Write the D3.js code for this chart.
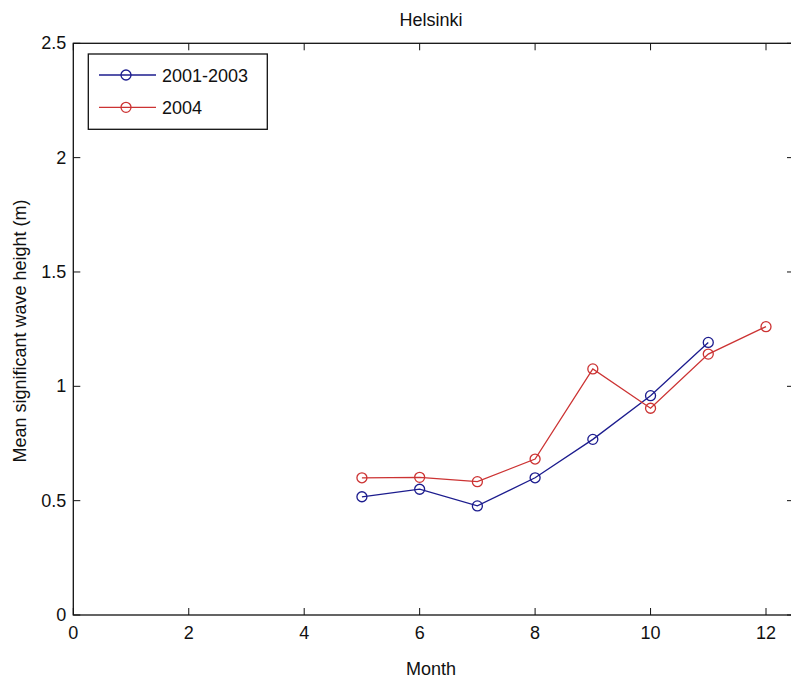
<!DOCTYPE html>
<html><head><meta charset="utf-8">
<script src="https://cdn.jsdelivr.net/npm/d3@7"></script>
<style>html,body{margin:0;padding:0;background:#fff;overflow:hidden}text{font-family:"Liberation Sans",Arial,sans-serif;fill:#111}</style>
</head><body>
<script>
const title = "Helsinki";
const xLabel = "Month";
const yLabel = "Mean significant wave height (m)";
const xTicks = [0, 2, 4, 6, 8, 10, 12];
const yTicks = [0, 0.5, 1, 1.5, 2, 2.5];
const seriesNames = ["2001-2003", "2004"];
const monthsA = [5, 6, 7, 8, 9, 10, 11];
const valuesA = [0.517, 0.550, 0.477, 0.600, 0.768, 0.959, 1.192];
const monthsB = [5, 6, 7, 8, 9, 10, 11, 12];
const valuesB = [0.600, 0.602, 0.583, 0.682, 1.076, 0.904, 1.141, 1.261];
const colors = ["#1c1c8e", "#cc3333"];

const W = 791, H = 679;
const svg = d3.select("body").append("svg").attr("width", W).attr("height", H);
const L = 73.3, R = 794, T = 43.3, B = 615;
const x = d3.scaleLinear().domain([0, 12]).range([L, 766]);
const y = d3.scaleLinear().domain([0, 2.5]).range([B, T]);
const fs = 18, tick = 7;

const g = svg.append("g");
g.append("rect").attr("x", L).attr("y", T).attr("width", R - L).attr("height", B - T)
  .attr("fill", "none").attr("stroke", "#111").attr("stroke-width", 1.3);

xTicks.forEach(v => {
  g.append("line").attr("x1", x(v)).attr("x2", x(v)).attr("y1", B).attr("y2", B - tick).attr("stroke", "#111");
  g.append("line").attr("x1", x(v)).attr("x2", x(v)).attr("y1", T).attr("y2", T + tick).attr("stroke", "#111");
  g.append("text").attr("x", x(v)).attr("y", B + 24).attr("text-anchor", "middle").attr("font-size", fs).text(d3.format("d")(v));
});
yTicks.forEach(v => {
  g.append("line").attr("x1", L).attr("x2", L + tick).attr("y1", y(v)).attr("y2", y(v)).attr("stroke", "#111");
  g.append("line").attr("x1", R).attr("x2", R - tick).attr("y1", y(v)).attr("y2", y(v)).attr("stroke", "#111");
  g.append("text").attr("x", L - 7).attr("y", y(v) + 6).attr("text-anchor", "end").attr("font-size", fs).text(v === 0 ? "0" : String(v));
});

svg.append("text").attr("x", 431).attr("y", 26).attr("text-anchor", "middle").attr("font-size", fs).text(title);
svg.append("text").attr("x", 431).attr("y", 675).attr("text-anchor", "middle").attr("font-size", fs).text(xLabel);
svg.append("text").attr("transform", "translate(26,331) rotate(-90)").attr("text-anchor", "middle").attr("font-size", fs).text(yLabel);

const line = d3.line().x(d => x(d[0])).y(d => y(d[1]));
const series = [d3.zip(monthsA, valuesA), d3.zip(monthsB, valuesB)];
series.forEach((s, i) => {
  svg.append("path").datum(s).attr("d", line).attr("fill", "none").attr("stroke", colors[i]).attr("stroke-width", 1.3);
  svg.selectAll(null).data(s).enter().append("circle")
    .attr("cx", d => x(d[0])).attr("cy", d => y(d[1])).attr("r", 5)
    .attr("fill", "none").attr("stroke", colors[i]).attr("stroke-width", 1.3);
});

const lg = svg.append("g");
lg.append("rect").attr("x", 88.3).attr("y", 54).attr("width", 179).attr("height", 75.3)
  .attr("fill", "#fff").attr("stroke", "#111").attr("stroke-width", 1.3);
seriesNames.forEach((n, i) => {
  const yy = 75 + i * 32.3;
  lg.append("line").attr("x1", 99).attr("x2", 156).attr("y1", yy).attr("y2", yy).attr("stroke", colors[i]).attr("stroke-width", 1.3);
  lg.append("circle").attr("cx", 126).attr("cy", yy).attr("r", 5).attr("fill", "none").attr("stroke", colors[i]).attr("stroke-width", 1.3);
  lg.append("text").attr("x", 162).attr("y", yy + 6.5).attr("font-size", fs).text(n);
});
</script>
</body></html>
